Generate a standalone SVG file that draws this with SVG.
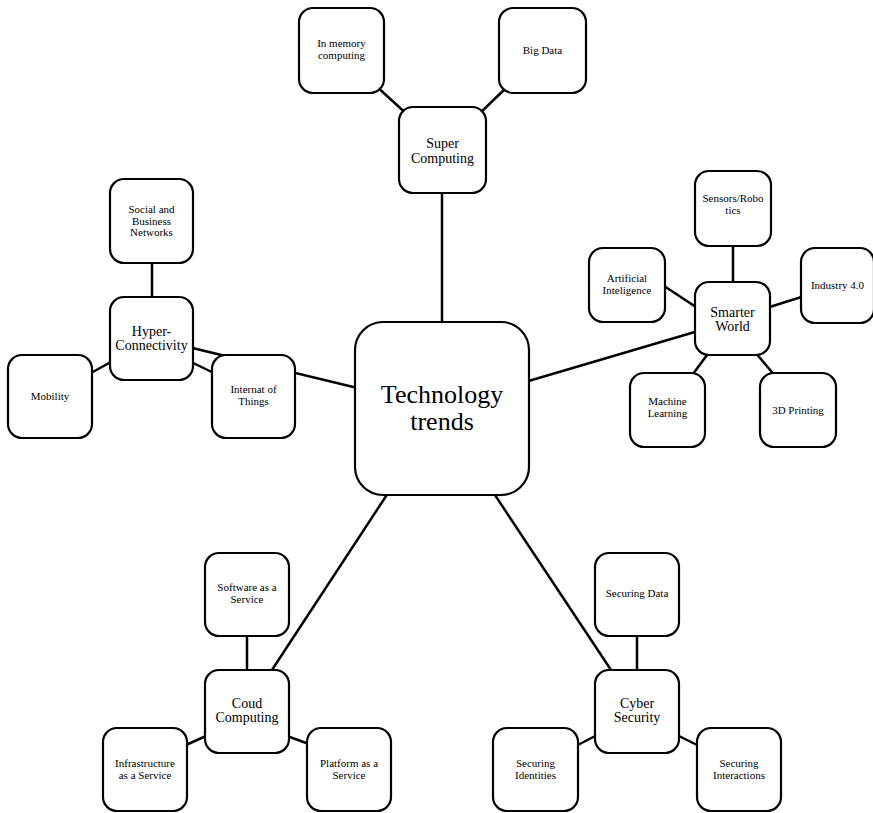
<svg xmlns="http://www.w3.org/2000/svg" width="873" height="813" viewBox="0 0 873 813">
  <style>
    .box { fill: #ffffff; stroke: #000000; stroke-width: 2.2; }
    .link { stroke: #000000; stroke-width: 2.5; fill: none; }
    text { font-family: "Liberation Serif", "Times New Roman", serif; fill: #000000; text-anchor: middle; }
    .leaf { font-size: 11px; }
    .hub { font-size: 14px; }
    .root { font-size: 26px; }
  </style>
  <rect x="0" y="0" width="873" height="813" fill="#ffffff"/>

  <!-- connectors, drawn under the boxes -->
  <g id="connectors">
    <line class="link" x1="442" y1="190" x2="442" y2="325"/>
    <line class="link" x1="375" y1="85" x2="410" y2="117"/>
    <line class="link" x1="508" y1="86" x2="477" y2="116"/>
    <line class="link" x1="152" y1="260" x2="152" y2="300"/>
    <line class="link" x1="80" y1="379" x2="120" y2="357"/>
    <line class="link" x1="185" y1="359" x2="222" y2="377"/>
    <line class="link" x1="180" y1="345" x2="370" y2="391"/>
    <line class="link" x1="515" y1="385" x2="705" y2="329"/>
    <line class="link" x1="655" y1="280" x2="705" y2="313"/>
    <line class="link" x1="760" y1="310" x2="811" y2="294"/>
    <line class="link" x1="733" y1="243" x2="733" y2="285"/>
    <line class="link" x1="710" y1="351" x2="690" y2="378"/>
    <line class="link" x1="755" y1="352" x2="776" y2="377"/>
    <line class="link" x1="392" y1="487" x2="268" y2="676"/>
    <line class="link" x1="247" y1="633" x2="247" y2="673"/>
    <line class="link" x1="177" y1="749" x2="215" y2="732"/>
    <line class="link" x1="279" y1="733" x2="317" y2="747"/>
    <line class="link" x1="489" y1="486" x2="615" y2="676"/>
    <line class="link" x1="637" y1="633" x2="637" y2="673"/>
    <line class="link" x1="568" y1="750" x2="605" y2="731"/>
    <line class="link" x1="669" y1="731" x2="707" y2="750"/>
  </g>

  <!-- root -->
  <g id="technology-trends">
    <rect class="box" x="355" y="322" width="174" height="173" rx="28"/>
    <text class="root" x="442" y="403">Technology</text>
    <text class="root" x="442" y="430">trends</text>
  </g>

  <!-- super computing branch -->
  <g id="super-computing">
    <rect class="box" x="399" y="107" width="87" height="86" rx="14"/>
    <text class="hub" x="442.5" y="148">Super</text>
    <text class="hub" x="442.5" y="163">Computing</text>
  </g>
  <g id="in-memory-computing">
    <rect class="box" x="299" y="8" width="85" height="85" rx="14"/>
    <text class="leaf" x="341.5" y="47">In memory</text>
    <text class="leaf" x="341.5" y="59">computing</text>
  </g>
  <g id="big-data">
    <rect class="box" x="499" y="8" width="87" height="85" rx="14"/>
    <text class="leaf" x="542.5" y="54">Big Data</text>
  </g>

  <!-- hyper-connectivity branch -->
  <g id="hyper-connectivity">
    <rect class="box" x="110" y="297" width="83" height="83" rx="14"/>
    <text class="hub" x="151.5" y="336">Hyper-</text>
    <text class="hub" x="151.5" y="350">Connectivity</text>
  </g>
  <g id="social-business-networks">
    <rect class="box" x="110" y="179" width="83" height="84" rx="14"/>
    <text class="leaf" x="151.5" y="213">Social and</text>
    <text class="leaf" x="151.5" y="224.5">Business</text>
    <text class="leaf" x="151.5" y="236">Networks</text>
  </g>
  <g id="mobility">
    <rect class="box" x="8" y="355" width="84" height="83" rx="14"/>
    <text class="leaf" x="50" y="400">Mobility</text>
  </g>
  <g id="internet-of-things">
    <rect class="box" x="212" y="355" width="83" height="83" rx="14"/>
    <text class="leaf" x="253.5" y="393">Internat of</text>
    <text class="leaf" x="253.5" y="405">Things</text>
  </g>

  <!-- smarter world branch -->
  <g id="smarter-world">
    <rect class="box" x="695" y="282" width="75" height="73" rx="14"/>
    <text class="hub" x="732.5" y="317">Smarter</text>
    <text class="hub" x="732.5" y="331">World</text>
  </g>
  <g id="sensors-robotics">
    <rect class="box" x="695" y="171" width="76" height="75" rx="14"/>
    <text class="leaf" x="733" y="202">Sensors/Robo</text>
    <text class="leaf" x="733" y="214">tics</text>
  </g>
  <g id="artificial-intelligence">
    <rect class="box" x="589" y="248" width="76" height="74" rx="14"/>
    <text class="leaf" x="627" y="282">Artificial</text>
    <text class="leaf" x="627" y="294">Inteligence</text>
  </g>
  <g id="industry-4">
    <rect class="box" x="801" y="248" width="73" height="75" rx="14"/>
    <text class="leaf" x="837.5" y="289">Industry 4.0</text>
  </g>
  <g id="machine-learning">
    <rect class="box" x="630" y="373" width="75" height="74" rx="14"/>
    <text class="leaf" x="667.5" y="405">Machine</text>
    <text class="leaf" x="667.5" y="417">Learning</text>
  </g>
  <g id="3d-printing">
    <rect class="box" x="760" y="373" width="76" height="74" rx="14"/>
    <text class="leaf" x="798" y="413.5">3D Printing</text>
  </g>

  <!-- cloud computing branch -->
  <g id="cloud-computing">
    <rect class="box" x="205" y="670" width="84" height="83" rx="14"/>
    <text class="hub" x="247" y="708">Coud</text>
    <text class="hub" x="247" y="722">Computing</text>
  </g>
  <g id="software-as-a-service">
    <rect class="box" x="205" y="553" width="84" height="83" rx="14"/>
    <text class="leaf" x="247" y="591">Software as a</text>
    <text class="leaf" x="247" y="603">Service</text>
  </g>
  <g id="infrastructure-as-a-service">
    <rect class="box" x="103" y="728" width="84" height="83" rx="14"/>
    <text class="leaf" x="145" y="767">Infrastructure</text>
    <text class="leaf" x="145" y="779">as a Service</text>
  </g>
  <g id="platform-as-a-service">
    <rect class="box" x="307" y="728" width="84" height="83" rx="14"/>
    <text class="leaf" x="349" y="767">Platform as a</text>
    <text class="leaf" x="349" y="779">Service</text>
  </g>

  <!-- cyber security branch -->
  <g id="cyber-security">
    <rect class="box" x="595" y="670" width="84" height="83" rx="14"/>
    <text class="hub" x="637" y="708">Cyber</text>
    <text class="hub" x="637" y="722">Security</text>
  </g>
  <g id="securing-data">
    <rect class="box" x="595" y="553" width="84" height="83" rx="14"/>
    <text class="leaf" x="637" y="597">Securing Data</text>
  </g>
  <g id="securing-identities">
    <rect class="box" x="493" y="728" width="85" height="83" rx="14"/>
    <text class="leaf" x="535.5" y="767">Securing</text>
    <text class="leaf" x="535.5" y="779">Identities</text>
  </g>
  <g id="securing-interactions">
    <rect class="box" x="697" y="728" width="84" height="83" rx="14"/>
    <text class="leaf" x="739" y="767">Securing</text>
    <text class="leaf" x="739" y="779">Interactions</text>
  </g>
</svg>
